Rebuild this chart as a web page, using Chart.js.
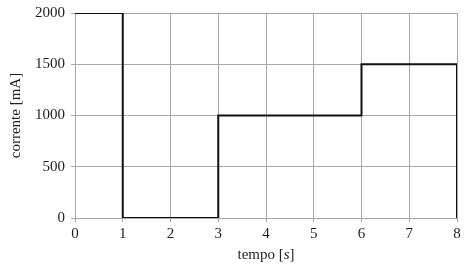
<!DOCTYPE html>
<html>
<head>
<meta charset="utf-8">
<script src="https://cdn.jsdelivr.net/npm/chart.js@4/dist/chart.umd.min.js"></script>
<style>
  html, body { margin: 0; padding: 0; background: #fff; }
  #wrap { width: 467px; height: 265px; position: relative; }
</style>
</head>
<body>
<div id="wrap"><canvas id="chart"></canvas></div>
<script>
// Data
const tempo = [0, 1, 3, 6, 8];
const corrente = [2000, 0, 1000, 1500, 0];
const xTicks = [0, 1, 2, 3, 4, 5, 6, 7, 8];
const yTicks = [0, 500, 1000, 1500, 2000];

const FONT = '"Liberation Serif", "Times New Roman", serif';
const GRID = '#a8a8a8';
const TEXT = '#1e1e1e';

// x title with italic unit
const xTitlePlugin = {
    id: 'xTitle',
    afterDraw(chart) {
        const ctx = chart.ctx;
        const area = chart.chartArea;
        const cx = (area.left + area.right) / 2;
        const y = 255;
        ctx.save();
        ctx.fillStyle = TEXT;
        ctx.textBaseline = 'middle';
        const parts = [
            { t: 'tempo [', f: '15px ' + FONT },
            { t: 's', f: 'italic 15px ' + FONT },
            { t: ']', f: '15px ' + FONT }
        ];
        let total = 0;
        parts.forEach(p => { ctx.font = p.f; p.w = ctx.measureText(p.t).width; total += p.w; });
        let x = cx - total / 2;
        ctx.textAlign = 'left';
        parts.forEach(p => { ctx.font = p.f; ctx.fillText(p.t, x, y); x += p.w; });
        ctx.restore();
    }
};

const ctx = document.getElementById('chart').getContext('2d');
new Chart(ctx, {
    type: 'line',
    data: {
        datasets: [{
            data: tempo.map((t, i) => ({ x: t, y: corrente[i] })),
            stepped: 'before',
            borderColor: '#111',
            borderWidth: 2,
            pointRadius: 0,
            fill: false
        }]
    },
    options: {
        responsive: true,
        maintainAspectRatio: false,
        animation: false,
        layout: { padding: { top: 13, right: 10, left: 7, bottom: 0 } },
        plugins: { legend: { display: false }, tooltip: { enabled: false } },
        scales: {
            x: {
                type: 'linear',
                min: 0,
                max: 8,
                afterBuildTicks: s => { s.ticks = xTicks.map(v => ({ value: v })); },
                afterFit: s => { s.height = 47; s.paddingLeft = 0; s.paddingRight = 0; },
                grid: { color: GRID, lineWidth: 1, tickLength: 4 },
                border: { color: GRID },
                ticks: { color: TEXT, font: { family: FONT, size: 15 }, padding: 3, maxRotation: 0,
                    callback: v => String(v) }
            },
            y: {
                min: 0,
                max: 2000,
                afterBuildTicks: s => { s.ticks = yTicks.map(v => ({ value: v })); },
                afterFit: s => { s.width = 68; s.paddingTop = 0; s.paddingBottom = 0; },
                grid: { color: GRID, lineWidth: 1, tickLength: 4 },
                border: { color: GRID },
                ticks: { color: TEXT, font: { family: FONT, size: 15 }, padding: 6,
                    callback: v => String(v) },
                title: { display: true, text: 'corrente [mA]', color: TEXT, font: { family: FONT, size: 15 }, padding: 0 }
            }
        }
    },
    plugins: [xTitlePlugin]
});
</script>
</body>
</html>
